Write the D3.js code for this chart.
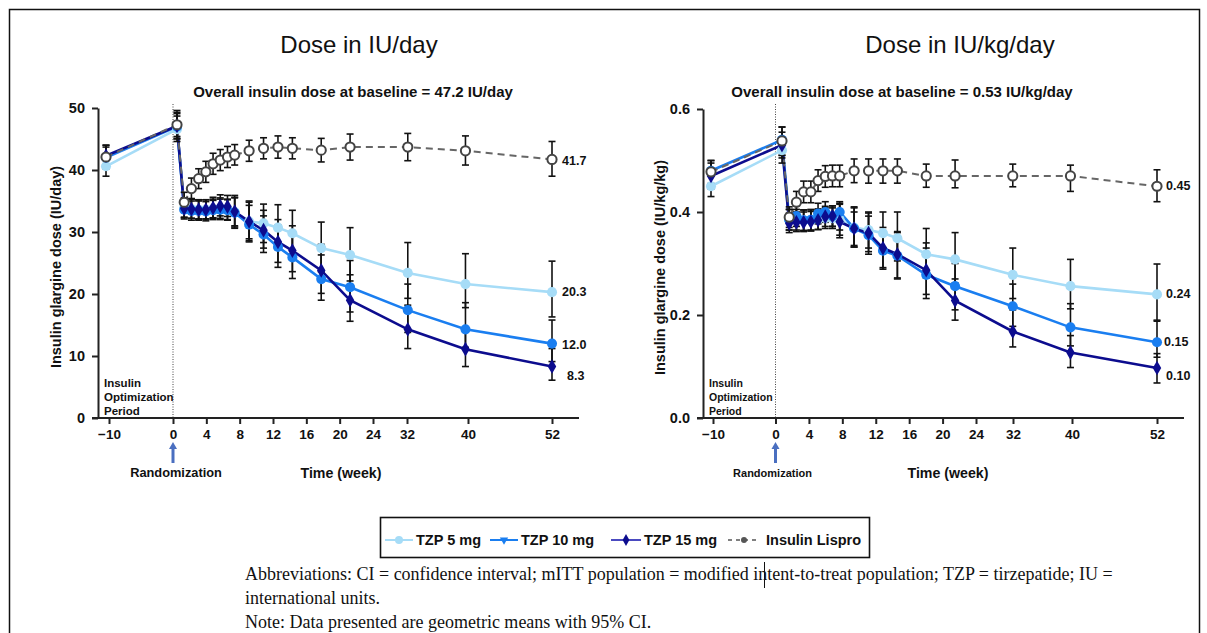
<!DOCTYPE html>
<html><head><meta charset="utf-8">
<script src="https://cdn.jsdelivr.net/npm/d3@7"></script>
<style>
body{margin:0;background:#fff}
svg{display:block}
</style>
</head><body>
<svg id="c" width="1207" height="633"></svg>
<script>
// ---------------- DATA ----------------
const weeks = [-10, 0, 1, 2, 3, 4, 5, 6, 7, 8, 10, 12, 14, 16, 20, 24, 32, 40, 52];
const tickWeeks = [-10, 0, 4, 8, 12, 16, 20, 24, 32, 40, 52];
const seriesNames = ["TZP 5 mg", "TZP 10 mg", "TZP 15 mg", "Insulin Lispro"];

// Left panel: IU/day
const iuTzp5   = [40.6, 46.6, 33.9, 33.7, 33.6, 33.6, 33.7, 33.8, 33.6, 33.2, 31.7, 31.4, 30.7, 29.8, 27.4, 26.3, 23.4, 21.6, 20.3];
const iuTzp5Lo = [39.0, 44.6, 32.4, 32.2, 32.1, 32.1, 32.2, 32.2, 32.0, 31.0, 28.6, 28.3, 27.2, 26.4, 23.6, 22.1, 19.3, 17.8, 16.3];
const iuTzp5Hi = [42.3, 48.7, 35.5, 35.3, 35.2, 35.2, 35.3, 35.5, 35.3, 35.6, 35.0, 34.5, 34.4, 33.5, 31.6, 30.7, 28.3, 26.5, 25.3];
const iuTzp10   = [42.0, 47.0, 33.6, 33.4, 33.4, 33.3, 33.5, 33.6, 33.5, 33.1, 31.2, 29.6, 27.6, 25.9, 22.4, 21.1, 17.4, 14.3, 12.0];
const iuTzp10Lo = [40.4, 45.0, 32.1, 31.9, 31.9, 31.8, 32.0, 32.0, 31.9, 30.6, 28.4, 26.7, 24.3, 22.5, 19.0, 17.1, 13.8, 11.4, 9.1];
const iuTzp10Hi = [43.7, 49.1, 35.2, 35.0, 35.0, 34.9, 35.1, 35.3, 35.2, 35.5, 34.3, 32.6, 31.1, 29.8, 26.3, 25.4, 21.6, 18.6, 15.8];
const iuTzp15   = [42.3, 47.1, 33.8, 33.7, 33.6, 33.6, 33.9, 34.2, 34.1, 33.3, 31.7, 30.3, 28.4, 27.0, 23.8, 19.0, 14.3, 11.1, 8.3];
const iuTzp15Lo = [40.6, 45.1, 32.3, 32.2, 32.1, 32.1, 32.3, 32.6, 32.5, 30.8, 28.9, 27.4, 25.1, 23.6, 20.1, 15.6, 11.2, 8.3, 6.1];
const iuTzp15Hi = [44.0, 49.3, 35.4, 35.3, 35.2, 35.2, 35.6, 36.0, 35.9, 35.9, 34.8, 33.5, 32.0, 31.0, 28.0, 23.1, 18.2, 14.4, 11.2];
const iuLis   = [42.1, 47.3, 34.8, 37.0, 38.6, 39.7, 41.0, 41.6, 42.1, 42.4, 43.1, 43.5, 43.7, 43.5, 43.2, 43.7, 43.7, 43.1, 41.7];
const iuLisLo = [40.2, 45.4, 33.2, 35.4, 37.0, 38.0, 39.3, 39.9, 40.4, 40.8, 41.4, 41.8, 41.9, 41.8, 41.3, 41.6, 41.5, 40.8, 39.0];
const iuLisHi = [44.0, 49.6, 36.4, 38.7, 40.2, 41.4, 42.7, 43.3, 43.8, 44.1, 44.8, 45.2, 45.5, 45.2, 45.1, 45.8, 45.9, 45.5, 44.6];
const iuYTicks = [0, 10, 20, 30, 40, 50];
const iuEndLabels = ["20.3", "12.0", "8.3", "41.7"];

// Right panel: IU/kg/day
const kgTzp5   = [0.450, 0.520, 0.385, 0.385, 0.384, 0.384, 0.386, 0.388, 0.388, 0.385, 0.370, 0.365, 0.359, 0.349, 0.318, 0.308, 0.278, 0.256, 0.240];
const kgTzp5Lo = [0.430, 0.495, 0.365, 0.365, 0.364, 0.364, 0.366, 0.368, 0.368, 0.355, 0.335, 0.330, 0.320, 0.305, 0.272, 0.262, 0.232, 0.212, 0.190];
const kgTzp5Hi = [0.470, 0.545, 0.405, 0.405, 0.404, 0.404, 0.406, 0.408, 0.408, 0.417, 0.410, 0.400, 0.400, 0.400, 0.368, 0.360, 0.330, 0.308, 0.299];
const kgTzp10   = [0.480, 0.540, 0.385, 0.392, 0.384, 0.385, 0.397, 0.400, 0.392, 0.400, 0.368, 0.355, 0.325, 0.315, 0.278, 0.256, 0.217, 0.176, 0.147];
const kgTzp10Lo = [0.455, 0.510, 0.365, 0.372, 0.364, 0.365, 0.377, 0.380, 0.372, 0.365, 0.332, 0.318, 0.289, 0.272, 0.232, 0.210, 0.178, 0.140, 0.118];
const kgTzp10Hi = [0.500, 0.565, 0.405, 0.412, 0.404, 0.405, 0.417, 0.420, 0.412, 0.420, 0.400, 0.392, 0.362, 0.360, 0.330, 0.300, 0.260, 0.222, 0.188];
const kgTzp15   = [0.470, 0.530, 0.378, 0.380, 0.380, 0.381, 0.384, 0.391, 0.392, 0.381, 0.368, 0.359, 0.330, 0.318, 0.287, 0.228, 0.168, 0.127, 0.097];
const kgTzp15Lo = [0.445, 0.505, 0.360, 0.362, 0.362, 0.363, 0.366, 0.372, 0.372, 0.350, 0.332, 0.323, 0.292, 0.270, 0.240, 0.190, 0.138, 0.098, 0.068];
const kgTzp15Hi = [0.495, 0.555, 0.398, 0.400, 0.400, 0.401, 0.404, 0.411, 0.412, 0.415, 0.408, 0.398, 0.370, 0.362, 0.340, 0.270, 0.210, 0.160, 0.125];
const kgLis   = [0.478, 0.538, 0.390, 0.419, 0.439, 0.439, 0.461, 0.469, 0.470, 0.470, 0.480, 0.480, 0.480, 0.480, 0.470, 0.470, 0.470, 0.470, 0.450];
const kgLisLo = [0.455, 0.510, 0.370, 0.398, 0.418, 0.418, 0.440, 0.448, 0.449, 0.449, 0.457, 0.456, 0.456, 0.456, 0.448, 0.447, 0.449, 0.440, 0.420];
const kgLisHi = [0.500, 0.565, 0.410, 0.440, 0.460, 0.460, 0.482, 0.490, 0.491, 0.491, 0.503, 0.503, 0.503, 0.503, 0.493, 0.501, 0.493, 0.491, 0.482];
const kgYTicks = [0, 0.2, 0.4, 0.6];
const kgEndLabels = ["0.24", "0.15", "0.10", "0.45"];

// ---------------- STYLE ----------------
const colors = ["#a6dcf7", "#1a7ef0", "#0c0c8e", "#555555"];
const FONT = "Arial, 'Liberation Sans', sans-serif";
const svg = d3.select("#c").attr("font-family", FONT);

// outer frame
svg.append("rect").attr("x", 9.5).attr("y", 9.5).attr("width", 1190).attr("height", 660)
  .attr("fill", "none").attr("stroke", "#111").attr("stroke-width", 1.5);

const panels = [
  {
    ax: 98, title: "Dose in IU/day", titleX: 359,
    sub: "Overall insulin dose at baseline = 47.2 IU/day", subX: 353,
    yDomain: [0, 50], yRange: [418, 108], yTicks: iuYTicks, fmt: d3.format("d"),
    yLabel: "Insulin glargine dose (IU/day)", yLabelX: 61,
    tickOff: [11, 75, 275, 309, 370, 454], dataOff: [8, 79, 454],
    series: [
      [iuTzp5, iuTzp5Lo, iuTzp5Hi], [iuTzp10, iuTzp10Lo, iuTzp10Hi],
      [iuTzp15, iuTzp15Lo, iuTzp15Hi], [iuLis, iuLisLo, iuLisHi]
    ],
    endLabels: iuEndLabels, endDx: [10, 10, 15, 10], endDy: [0, 1, 9, 2],
    randFont: 12.8, randDx: 3, optFont: 11.5, timeX: 341
  },
  {
    ax: 703, title: "Dose in IU/kg/day", titleX: 960,
    sub: "Overall insulin dose at baseline = 0.53 IU/kg/day", subX: 902,
    yDomain: [0, 0.6], yRange: [418, 109], yTicks: kgYTicks, fmt: d3.format(".1f"),
    yLabel: "Insulin glargine dose (IU/kg/kg)", yLabelX: 665,
    tickOff: [10, 72.5, 273, 310, 369, 454], dataOff: [8, 79, 454],
    series: [
      [kgTzp5, kgTzp5Lo, kgTzp5Hi], [kgTzp10, kgTzp10Lo, kgTzp10Hi],
      [kgTzp15, kgTzp15Lo, kgTzp15Hi], [kgLis, kgLisLo, kgLisHi]
    ],
    endLabels: kgEndLabels, endDx: [9, 7, 9, 9], endDy: [0, 0, 8, 0],
    randFont: 11, randDx: -3, optFont: 10.5, timeX: 948
  }
];

panels.forEach(p => {
  const g = svg.append("g");
  const y = d3.scaleLinear().domain(p.yDomain).range(p.yRange);
  const xT = d3.scaleLinear().domain([-10, 0, 24, 32, 40, 52]).range(p.tickOff.map(o => p.ax + o));
  const xD = d3.scaleLinear().domain([-10, 0, 52]).range(p.dataOff.map(o => p.ax + o));
  const y0 = y(0);

  // titles
  g.append("text").attr("x", p.titleX).attr("y", 53).attr("text-anchor", "middle")
    .attr("font-size", 24).attr("fill", "#111").text(p.title);
  g.append("text").attr("x", p.subX).attr("y", 97).attr("text-anchor", "middle")
    .attr("font-size", 15).attr("font-weight", "bold").attr("fill", "#111").text(p.sub);

  // dotted randomization line
  g.append("line").attr("x1", xT(0)).attr("x2", xT(0)).attr("y1", 104).attr("y2", y0)
    .attr("stroke", "#444").attr("stroke-width", 1).attr("stroke-dasharray", "1,1.5");

  // y axis
  const yAx = g.append("g").attr("transform", `translate(${p.ax},0)`)
    .call(d3.axisLeft(y).tickValues(p.yTicks).tickFormat(p.fmt).tickSize(6).tickSizeOuter(0).tickPadding(7));
  yAx.select(".domain").attr("stroke", "#222").attr("stroke-width", 2);
  yAx.selectAll(".tick line").attr("stroke", "#222").attr("stroke-width", 2);
  yAx.selectAll(".tick text").attr("font-size", 14.5).attr("font-weight", "bold")
    .attr("font-family", FONT).attr("fill", "#111");

  // x axis
  const xAx = g.append("g").attr("transform", `translate(0,${y0})`)
    .call(d3.axisBottom(xT).tickValues(tickWeeks).tickFormat(d3.format("d")).tickSize(6).tickSizeOuter(0).tickPadding(5));
  xAx.select(".domain").remove();
  xAx.append("line").attr("x1", p.ax - 6).attr("x2", p.ax + 481).attr("y1", 0).attr("y2", 0)
    .attr("stroke", "#222").attr("stroke-width", 2);
  xAx.selectAll(".tick line").attr("stroke", "#222").attr("stroke-width", 2);
  xAx.selectAll(".tick text").attr("font-size", 13.5).attr("font-weight", "bold")
    .attr("font-family", FONT).attr("fill", "#111");

  // y label
  g.append("text").attr("transform", `translate(${p.yLabelX},${(y0 + p.yRange[1]) / 2 + 4}) rotate(-90)`)
    .attr("text-anchor", "middle").attr("font-size", 14.5).attr("font-weight", "bold").attr("fill", "#111")
    .text(p.yLabel);

  // Time label
  g.append("text").attr("x", p.timeX).attr("y", 478).attr("text-anchor", "middle")
    .attr("font-size", 14.2).attr("font-weight", "bold").attr("fill", "#111").text("Time (week)");

  // Randomization arrow + label
  const ax0 = xT(0);
  g.append("line").attr("x1", ax0).attr("x2", ax0).attr("y1", 463).attr("y2", 448)
    .attr("stroke", "#4a6fc0").attr("stroke-width", 3);
  g.append("path").attr("d", `M${ax0 - 4},${449} L${ax0},${442} L${ax0 + 4},${449} Z`).attr("fill", "#4a6fc0");
  g.append("text").attr("x", ax0 + p.randDx).attr("y", 477).attr("text-anchor", "middle")
    .attr("font-size", p.randFont).attr("font-weight", "bold").attr("fill", "#111").text("Randomization");

  // Insulin Optimization Period
  const op = g.append("text").attr("x", p.ax + 6).attr("font-size", p.optFont)
    .attr("font-weight", "bold").attr("fill", "#111");
  ["Insulin", "Optimization", "Period"].forEach((t, i) => {
    op.append("tspan").attr("x", p.ax + 6).attr("y", 387 + i * 14).text(t);
  });

  // lines
  p.series.forEach((s, si) => {
    const pts = weeks.map((w, i) => [xD(w), y(s[0][i])]);
    g.append("path").attr("d", d3.line()(pts)).attr("fill", "none")
      .attr("stroke", si === 3 ? "#666" : colors[si]).attr("stroke-width", si === 3 ? 2 : 2.6)
      .attr("stroke-dasharray", si === 3 ? "7,5" : null);
  });

  // error bars
  p.series.forEach((s, si) => {
    weeks.forEach((w, i) => {
      const x = xD(w), lo = y(s[1][i]), hi = y(s[2][i]);
      g.append("line").attr("x1", x).attr("x2", x).attr("y1", lo).attr("y2", hi)
        .attr("stroke", "#111").attr("stroke-width", 1.6);
      [lo, hi].forEach(yy => g.append("line").attr("x1", x - 3.5).attr("x2", x + 3.5)
        .attr("y1", yy).attr("y2", yy).attr("stroke", "#111").attr("stroke-width", 1.6));
    });
  });

  // markers
  p.series.forEach((s, si) => {
    weeks.forEach((w, i) => {
      const x = xD(w), yy = y(s[0][i]);
      if (si === 3) {
        g.append("circle").attr("cx", x).attr("cy", yy).attr("r", 4.6)
          .attr("fill", "#fff").attr("stroke", "#444").attr("stroke-width", 2);
      } else {
        const sym = si === 2 ? d3.symbolDiamond : d3.symbolCircle;
        const size = si === 2 ? 62 : 80;
        g.append("path").attr("d", d3.symbol(sym, size)()).attr("transform", `translate(${x},${yy})`)
          .attr("fill", colors[si]);
      }
    });
  });

  // end labels
  p.series.forEach((s, si) => {
    const last = s[0].length - 1;
    g.append("text").attr("x", xD(52) + p.endDx[si]).attr("y", y(s[0][last]) + 4 + p.endDy[si])
      .attr("font-size", 12.5).attr("font-weight", "bold").attr("fill", "#111").text(p.endLabels[si]);
  });
});

// ---------------- LEGEND ----------------
const lg = svg.append("g");
lg.append("rect").attr("x", 380.5).attr("y", 517.5).attr("width", 489).attr("height", 40)
  .attr("fill", "#fff").attr("stroke", "#111").attr("stroke-width", 1.6);
const legX = [385, 490, 611, 728];
const legLen = [28, 28, 30, 32];
seriesNames.forEach((n, i) => {
  const x0 = legX[i], cy = 540, cx = x0 + legLen[i] / 2;
  lg.append("line").attr("x1", x0).attr("x2", x0 + legLen[i]).attr("y1", cy).attr("y2", cy)
    .attr("stroke", i === 2 ? "#4a4ac0" : colors[i]).attr("stroke-width", i === 3 ? 1.5 : 2)
    .attr("stroke-dasharray", i === 3 ? "4,4" : null);
  if (i === 0) lg.append("circle").attr("cx", cx).attr("cy", cy).attr("r", 4).attr("fill", colors[0]);
  if (i === 1) lg.append("path").attr("d", d3.symbol(d3.symbolTriangle, 30)()).attr("transform", `translate(${cx},${cy}) rotate(180)`).attr("fill", colors[1]);
  if (i === 2) lg.append("path").attr("d", d3.symbol(d3.symbolDiamond, 40)()).attr("transform", `translate(${cx},${cy})`).attr("fill", colors[2]);
  if (i === 3) lg.append("circle").attr("cx", cx).attr("cy", cy).attr("r", 3).attr("fill", "#555");
  lg.append("text").attr("x", x0 + legLen[i] + (i === 3 ? 6 : 3)).attr("y", cy + 5)
    .attr("font-size", 14.5).attr("font-weight", "bold").attr("fill", "#111").text(n);
});

// ---------------- FOOTNOTES ----------------
const notes = [
  "Abbreviations: CI = confidence interval; mITT population = modified intent-to-treat population; TZP = tirzepatide; IU =",
  "international units.",
  "Note: Data presented are geometric means with 95% CI."
];
notes.forEach((t, i) => {
  svg.append("text").attr("x", 245).attr("y", 580 + i * 24)
    .attr("font-family", "'Liberation Serif','Times New Roman',serif").attr("font-size", 18)
    .attr("fill", "#111").text(t);
});
svg.append("line").attr("x1", 764.5).attr("x2", 764.5).attr("y1", 562).attr("y2", 588)
  .attr("stroke", "#111").attr("stroke-width", 1);
</script>
</body></html>
